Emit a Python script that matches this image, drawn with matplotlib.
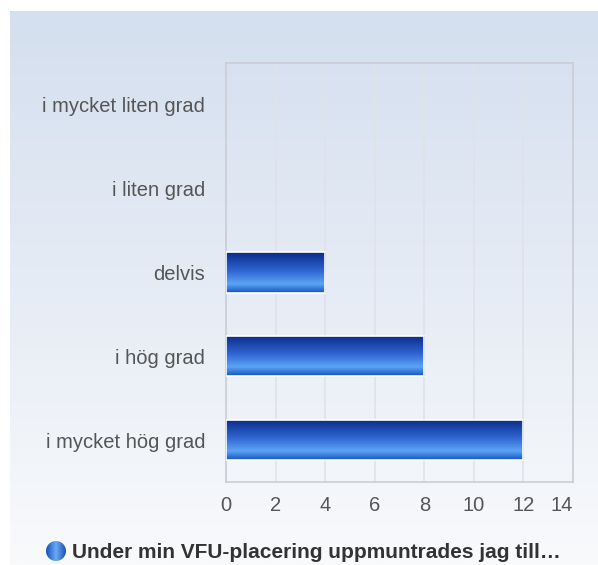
import numpy as np
import matplotlib.pyplot as plt
from matplotlib.colors import LinearSegmentedColormap
from matplotlib.patches import Rectangle, Circle

categories = ['i mycket liten grad', 'i liten grad', 'delvis', 'i hög grad', 'i mycket hög grad']
values = [0, 0, 4, 8, 12]
xticks = [0, 2, 4, 6, 8, 10, 12, 14]
legend_label = 'Under min VFU-placering uppmuntrades jag till…'

plt.rcParams['font.family'] = ['Liberation Sans', 'DejaVu Sans']

fig = plt.figure(figsize=(5.98, 5.65), dpi=100)

# bakgrund med gradient
bg = fig.add_axes([10 / 598, 0, 1 - 10 / 598, 1 - 11 / 565], zorder=-10)
bg_cmap = LinearSegmentedColormap.from_list('bg', ['#d4dfef', '#e6ecf5', '#f9fafc'])
bg.imshow(np.linspace(0, 1, 256).reshape(-1, 1), aspect='auto', cmap=bg_cmap,
          extent=[0, 1, 0, 1], origin='upper')
bg.set_axis_off()

ax = fig.add_axes([226 / 598, 1 - 482 / 565, (573 - 226) / 598, (482 - 63) / 565])
ax.set_facecolor('none')

bar_cmap = LinearSegmentedColormap.from_list(
    'bar', [(0, '#0a2b88'), (0.45, '#2f64d0'), (0.78, '#5ba4f5'), (1, '#1755c0')])
grad = np.linspace(0, 1, 100).reshape(-1, 1)
h = 0.48
ypos = np.arange(len(categories))
for y, v in zip(ypos, values):
    if v <= 0:
        continue
    im = ax.imshow(grad, aspect='auto', cmap=bar_cmap, origin='upper',
                   extent=[0, v, y + h / 2, y - h / 2], zorder=3)
    rect = Rectangle((0, y - h / 2), v, h, facecolor='none', edgecolor='white', lw=1.2, zorder=4)
    ax.add_patch(rect)
    im.set_clip_path(rect)

ax.set_xlim(0, 14)
ax.set_ylim(len(categories) - 0.5, -0.5)
ax.set_yticks(ypos)
ax.set_yticklabels(categories)
ax.set_xticks(xticks)
ax.set_xticklabels([str(t) for t in xticks])
ax.get_xticklabels()[-1].set_horizontalalignment('right')
ax.tick_params(axis='both', length=0, labelsize=14.5, colors='#555555')
ax.tick_params(axis='y', pad=15)
ax.tick_params(axis='x', pad=10)
ax.xaxis.grid(True, color='#dfe3e8', lw=1.2, zorder=0)
ax.set_axisbelow(True)
for s in ax.spines.values():
    s.set_color('#c9ced6')
    s.set_linewidth(1.2)

# förklaring
cax = fig.add_axes([0, 0, 1, 1], zorder=5)
cax.set_xlim(0, 598)
cax.set_ylim(565, 0)
cax.set_axis_off()
circ = Circle((56, 551), 10, transform=cax.transData)
ci = cax.imshow(np.linspace(0, 1, 100).reshape(1, -1), aspect='auto',
                cmap=LinearSegmentedColormap.from_list('c', ['#1a4fc0', '#6aaaf5', '#1f4fb8']),
                extent=[46, 66, 561, 541])
ci.set_clip_path(circ)
cax.set_xlim(0, 598)
cax.set_ylim(565, 0)
cax.text(72, 552, legend_label, fontsize=15, fontweight='bold', color='#333333',
         va='center', ha='left')

fig.savefig('out.png', dpi=100)
